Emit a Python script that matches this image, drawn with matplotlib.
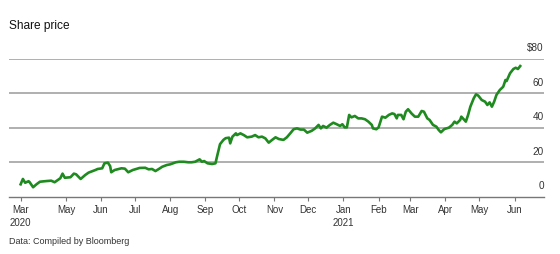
import matplotlib
matplotlib.use("Agg")
import matplotlib.pyplot as plt
import matplotlib.dates as mdates
import matplotlib.transforms as mtransforms
import pandas as pd

dates = [
    "2020-03-22", "2020-03-24", "2020-03-26", "2020-03-29", "2020-03-30",
    "2020-04-02", "2020-04-05", "2020-04-08", "2020-04-14", "2020-04-18",
    "2020-04-21", "2020-04-26", "2020-04-28", "2020-04-30", "2020-05-05",
    "2020-05-08", "2020-05-10", "2020-05-14", "2020-05-18", "2020-05-21",
    "2020-05-27", "2020-05-29", "2020-06-02", "2020-06-04", "2020-06-07",
    "2020-06-09", "2020-06-10", "2020-06-13", "2020-06-19", "2020-06-22",
    "2020-06-25", "2020-06-29", "2020-07-05", "2020-07-10", "2020-07-13",
    "2020-07-16", "2020-07-19", "2020-07-22", "2020-07-25", "2020-07-29",
    "2020-08-01", "2020-08-06", "2020-08-09", "2020-08-13", "2020-08-17",
    "2020-08-20", "2020-08-23", "2020-08-27", "2020-08-29", "2020-08-31",
    "2020-09-03", "2020-09-07", "2020-09-10", "2020-09-11", "2020-09-14",
    "2020-09-17", "2020-09-19", "2020-09-22", "2020-09-23", "2020-09-25",
    "2020-09-28", "2020-09-29", "2020-10-02", "2020-10-05", "2020-10-08",
    "2020-10-12", "2020-10-15", "2020-10-18", "2020-10-21", "2020-10-24",
    "2020-10-27", "2020-10-30", "2020-11-02", "2020-11-05", "2020-11-09",
    "2020-11-12", "2020-11-15", "2020-11-18", "2020-11-21", "2020-11-24",
    "2020-11-27", "2020-11-30", "2020-12-04", "2020-12-07", "2020-12-10",
    "2020-12-12", "2020-12-14", "2020-12-17", "2020-12-20", "2020-12-23",
    "2020-12-26", "2020-12-29", "2020-12-31", "2021-01-02", "2021-01-04",
    "2021-01-06", "2021-01-08", "2021-01-11", "2021-01-14", "2021-01-17",
    "2021-01-20", "2021-01-23", "2021-01-26", "2021-01-27", "2021-01-30",
    "2021-02-01", "2021-02-04", "2021-02-07", "2021-02-10", "2021-02-13",
    "2021-02-15", "2021-02-17", "2021-02-18", "2021-02-21", "2021-02-23",
    "2021-02-25", "2021-02-27", "2021-03-02", "2021-03-05", "2021-03-08",
    "2021-03-11", "2021-03-13", "2021-03-16", "2021-03-18", "2021-03-20",
    "2021-03-21", "2021-03-24", "2021-03-26", "2021-03-28", "2021-03-31",
    "2021-04-04", "2021-04-07", "2021-04-09", "2021-04-11", "2021-04-14",
    "2021-04-15", "2021-04-17", "2021-04-19", "2021-04-21", "2021-04-23",
    "2021-04-26", "2021-04-28", "2021-04-30", "2021-05-03", "2021-05-06",
    "2021-05-08", "2021-05-10", "2021-05-12", "2021-05-14", "2021-05-16",
    "2021-05-19", "2021-05-22", "2021-05-24", "2021-05-25", "2021-05-28",
    "2021-05-31", "2021-06-02", "2021-06-04", "2021-06-06",
]
prices = [
    7.2, 10.3, 8.1, 9.0, 8.4,
    5.5, 7.2, 8.7, 9.1, 9.3,
    8.4, 10.7, 13.4, 11.0, 11.3,
    13.4, 13.0, 10.3, 12.6, 14.0,
    15.5, 16.1, 16.5, 19.4, 19.8,
    17.8, 14.2, 15.5, 16.5, 16.3,
    14.2, 15.5, 16.7, 16.8, 15.9,
    16.1, 14.9, 16.1, 17.4, 18.4,
    18.8, 20.0, 20.3, 20.3, 20.0,
    20.0, 20.3, 21.7, 20.3, 20.7,
    19.4, 19.0, 19.4, 22.3, 30.5,
    33.0, 34.0, 34.3, 31.0, 34.9,
    36.8, 35.8, 36.8, 35.8, 34.5,
    34.9, 35.8, 34.5, 34.9, 33.9,
    31.4, 33.0, 34.5, 33.5, 33.0,
    34.5, 36.8, 39.2, 39.7, 39.0,
    39.0, 37.2, 38.3, 39.7, 41.7,
    39.7, 41.1, 40.1, 41.7, 43.0,
    42.1, 41.1, 42.1, 40.3, 40.3,
    47.5, 46.1, 46.9, 45.5, 45.5,
    45.0, 43.6, 41.7, 39.7, 39.2,
    40.3, 46.5, 45.9, 47.5, 48.4,
    48.0, 45.5, 47.5, 47.5, 45.0,
    49.4, 50.8, 48.4, 46.5, 46.5,
    49.8, 49.4, 45.5, 44.6, 42.6,
    41.7, 40.7, 38.8, 37.4, 39.3,
    40.1, 41.7, 43.6, 42.6, 44.6,
    46.5, 45.1, 43.6, 47.5, 52.3,
    57.2, 59.5, 58.7, 56.2, 55.2,
    53.3, 54.8, 52.3, 55.2, 59.1,
    62.0, 63.9, 67.8, 67.2, 71.7,
    74.2, 74.9, 74.2, 75.9,
]
tick_dates = ["2020-03-22", "2020-05-01", "2020-06-01", "2020-07-01", "2020-08-01",
              "2020-09-01", "2020-10-01", "2020-11-01", "2020-12-01", "2021-01-01",
              "2021-02-01", "2021-03-01", "2021-04-01", "2021-05-01", "2021-06-01"]
tick_labels = ["Mar\n2020", "May", "Jun", "Jul", "Aug", "Sep", "Oct", "Nov", "Dec",
               "Jan\n2021", "Feb", "Mar", "Apr", "May", "Jun"]
y_values = [0, 20, 40, 60, 80]
y_labels = ["0", "20", "40", "60", "$80"]
title = "Share price"
source = "Data: Compiled by Bloomberg"

plt.rcParams['font.family'] = ['Liberation Sans', 'DejaVu Sans']

W, H = 560, 254
fig = plt.figure(figsize=(W / 100, H / 100), dpi=100)
left_px, right_px, top_px, bot_px = 9.3, 544, 59, 196.7
ax = fig.add_axes([left_px / W, 1 - bot_px / H, (right_px - left_px) / W, (bot_px - top_px) / H])

x = pd.to_datetime(dates)
ax.set_xlim(pd.Timestamp("2020-03-12"), pd.Timestamp("2021-06-27"))
ax.set_ylim(0, 80)

for v in y_values[1:]:
    ax.axhline(v, color="#9a9a9a", lw=1.1, zorder=1)

ax.plot(x, prices, color="#1f8a1f", lw=1.9, solid_joinstyle="round", zorder=3, clip_on=False)

for s in ["top", "right", "left"]:
    ax.spines[s].set_visible(False)
ax.spines["bottom"].set_color("#777777")
ax.spines["bottom"].set_linewidth(1.0)

ax.set_yticks([])
ax.set_xticks(pd.to_datetime(tick_dates))
ax.set_xticklabels(tick_labels, fontsize=7, color="#333333", linespacing=1.35)
for lbl in ax.get_xticklabels():
    lbl.set_horizontalalignment("center")
ax.tick_params(axis="x", direction="out", length=3, width=0.8, color="#777777", pad=3)

trans = mtransforms.blended_transform_factory(ax.transAxes, ax.transData)
for v, lab in zip(y_values, y_labels):
    ax.annotate(lab, xy=(1.0, v), xycoords=trans, xytext=(0, 4), textcoords="offset points",
                ha="right", va="bottom", fontsize=7.2, color="#333333")

fig.text(left_px / W, 1 - 26 / H, title, ha="left", va="center", fontsize=8.6, color="#111111")
fig.text(left_px / W, 1 - 241.5 / H, source, ha="left", va="center", fontsize=6.5, color="#333333")

fig.savefig("out.png", dpi=100)
